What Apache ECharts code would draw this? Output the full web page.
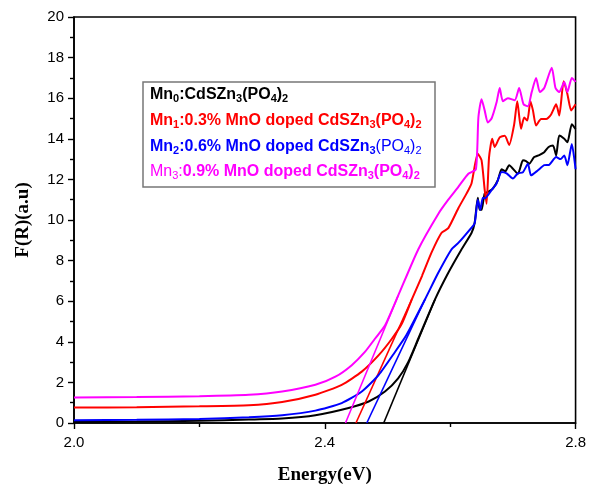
<!DOCTYPE html>
<html>
<head>
<meta charset="utf-8">
<script src="https://cdn.jsdelivr.net/npm/echarts@6/dist/echarts.min.js"></script>
<style>
  html, body { margin: 0; padding: 0; background: #fff; }
  #chart { width: 589px; height: 490px; }
</style>
</head>
<body>
<div id="chart"></div>
<script>
// Kubelka-Munk F(R) against photon energy for the four samples

// Mn0 : CdSZn3(PO4)2
const energyMn0 = [2.00, 2.10, 2.20, 2.279, 2.332, 2.385, 2.438, 2.47, 2.496, 2.517, 2.533, 2.549, 2.576, 2.597, 2.618, 2.634, 2.639, 2.644, 2.647, 2.650, 2.655, 2.661, 2.668, 2.676, 2.682, 2.688, 2.694, 2.708, 2.716, 2.721, 2.726, 2.734, 2.742, 2.750, 2.757, 2.764, 2.769, 2.774, 2.782, 2.787, 2.794, 2.800];
const frMn0 = [0.05, 0.07, 0.11, 0.17, 0.22, 0.38, 0.74, 1.06, 1.55, 2.2, 3.0, 4.15, 6.1, 7.4, 8.55, 9.36, 9.85, 11.1, 10.5, 10.5, 11.3, 11.4, 11.55, 11.96, 12.5, 12.4, 12.7, 12.28, 12.94, 12.9, 12.77, 13.1, 13.2, 13.34, 13.6, 13.67, 13.18, 14.16, 14.0, 13.83, 14.72, 14.48];

// Mn1 : 0.3% MnO
const energyMn1 = [2.00, 2.10, 2.20, 2.279, 2.332, 2.385, 2.427, 2.459, 2.486, 2.507, 2.523, 2.539, 2.555, 2.57, 2.586, 2.597, 2.613, 2.626, 2.634, 2.644, 2.650, 2.655, 2.658, 2.662, 2.667, 2.671, 2.679, 2.687, 2.694, 2.702, 2.707, 2.713, 2.718, 2.723, 2.728, 2.732, 2.737, 2.745, 2.753, 2.761, 2.769, 2.774, 2.781, 2.787, 2.793, 2.800];
const frMn1 = [0.76, 0.78, 0.82, 0.87, 1.03, 1.39, 1.88, 2.53, 3.34, 4.15, 4.9, 6.1, 7.24, 8.38, 9.36, 9.6, 10.58, 11.3, 11.8, 13.26, 12.95, 11.5, 10.8, 13.1, 14.0, 13.6, 14.07, 14.15, 13.7, 14.7, 15.85, 14.5, 15.05, 14.9, 15.85, 15.4, 14.65, 14.97, 14.97, 15.2, 15.7, 15.15, 16.84, 16.2, 15.4, 15.7];

// Mn2 : 0.6% MnO
const energyMn2 = [2.00, 2.10, 2.20, 2.279, 2.332, 2.385, 2.427, 2.459, 2.486, 2.512, 2.530, 2.560, 2.581, 2.602, 2.613, 2.629, 2.639, 2.644, 2.648, 2.652, 2.655, 2.666, 2.674, 2.682, 2.690, 2.700, 2.708, 2.716, 2.724, 2.729, 2.740, 2.750, 2.758, 2.769, 2.776, 2.782, 2.787, 2.794, 2.800];
const frMn2 = [0.14, 0.16, 0.20, 0.28, 0.38, 0.61, 0.98, 1.55, 2.37, 3.5, 4.32, 6.1, 7.4, 8.55, 8.87, 9.44, 9.84, 11.0, 10.5, 11.1, 11.06, 11.47, 11.8, 12.37, 12.3, 12.04, 12.3, 12.35, 12.77, 12.2, 12.45, 12.7, 12.72, 13.1, 13.0, 13.18, 12.7, 13.75, 12.5];

// Mn3 : 0.9% MnO
const energyMn3 = [2.00, 2.10, 2.20, 2.279, 2.332, 2.385, 2.417, 2.443, 2.464, 2.480, 2.496, 2.517, 2.549, 2.581, 2.597, 2.613, 2.629, 2.641, 2.645, 2.650, 2.655, 2.660, 2.666, 2.674, 2.679, 2.684, 2.692, 2.703, 2.710, 2.717, 2.724, 2.730, 2.737, 2.743, 2.750, 2.762, 2.768, 2.774, 2.782, 2.787, 2.794, 2.800];
const frMn3 = [1.26, 1.28, 1.32, 1.39, 1.55, 1.88, 2.28, 2.85, 3.5, 4.15, 4.8, 6.27, 8.55, 10.3, 11.0, 11.63, 12.28, 12.5, 15.05, 15.95, 15.4, 14.8, 15.0, 15.8, 16.5, 15.85, 16.0, 15.9, 16.5, 15.7, 15.6, 16.3, 17.0, 16.3, 16.5, 17.5, 16.5, 16.3, 16.8, 16.3, 17.0, 16.8];

// Linear extrapolations of the absorption edge (start on the energy axis, end on the curve)
const edgeMn0 = [[2.494, 0], [2.576, 6.1]];
const edgeMn1 = [[2.4497, 0], [2.539, 6.1]];
const edgeMn2 = [[2.467, 0], [2.560, 6.1]];
const edgeMn3 = [[2.433, 0], [2.517, 6.27]];

const seriesColors = ['#000000', '#ff0000', '#0000ff', '#ff00ff'];
const xTicks = { min: 2.0, max: 2.8, step: 0.4 };
const yTicks = { min: 0, max: 20, step: 2 };

const pairs = (xs, ys) => xs.map((x, i) => [x, ys[i]]);

const curves = [
  pairs(energyMn0, frMn0),
  pairs(energyMn1, frMn1),
  pairs(energyMn2, frMn2),
  pairs(energyMn3, frMn3)
];
const edges = [edgeMn0, edgeMn1, edgeMn2, edgeMn3];

const series = [];
curves.forEach((d, i) => {
  series.push({
    type: 'line', data: d, showSymbol: false, symbol: 'none', smooth: 0.2,
    lineStyle: { color: seriesColors[i], width: 2 }, z: 3 + i
  });
});
edges.forEach((d, i) => {
  series.push({
    type: 'line', data: d, showSymbol: false, symbol: 'none',
    lineStyle: { color: seriesColors[i], width: 1.6 }, z: 3 + i
  });
});

// Rich-text key with chemical subscripts
const keyFont = 'Liberation Sans, Arial, sans-serif';
function keyStyles(color) {
  return {
    b: { fontSize: 16, fontWeight: 'bold', lineHeight: 18, fill: color, fontFamily: keyFont },
    n: { fontSize: 16, fontWeight: 'normal', lineHeight: 18, fill: color, fontFamily: keyFont },
    bs: { fontSize: 11, fontWeight: 'bold', lineHeight: 8, verticalAlign: 'bottom', fill: color, fontFamily: keyFont },
    ns: { fontSize: 11, fontWeight: 'normal', lineHeight: 8, verticalAlign: 'bottom', fill: color, fontFamily: keyFont }
  };
}
const keyLines = [
  '{b|Mn}{bs|0}{b|:CdSZn}{bs|3}{b|(PO}{bs|4}{b|)}{bs|2}',
  '{b|Mn}{bs|1}{b|:0.3% MnO doped CdSZn}{bs|3}{b|(PO}{bs|4}{b|)}{bs|2}',
  '{b|Mn}{bs|2}{b|:0.6% MnO doped CdSZn}{bs|3}{n|(PO}{ns|4}{n|)}{ns|2}',
  '{n|Mn}{ns|3}{n|:}{b|0.9% MnO doped CdSZn}{bs|3}{b|(PO}{bs|4}{b|)}{bs|2}'
];
const keyTop = [95, 121, 147, 172];

const graphic = [{
  type: 'rect',
  shape: { x: 143, y: 82, width: 292, height: 105 },
  style: { fill: '#ffffff', stroke: '#777777', lineWidth: 1.5 },
  z: 20
}];
keyLines.forEach((t, i) => {
  graphic.push({
    type: 'text', x: 150, y: keyTop[i], z: 21,
    style: { text: t, rich: keyStyles(seriesColors[i]), fill: seriesColors[i], verticalAlign: 'middle', align: 'left' }
  });
});

const chart = echarts.init(document.getElementById('chart'), null, { renderer: 'canvas' });
chart.setOption({
  animation: false,
  backgroundColor: '#ffffff',
  grid: {
    left: 74, right: 11, top: 17, bottom: 62,
    show: true, borderColor: '#000', borderWidth: 1.6, backgroundColor: 'transparent'
  },
  xAxis: {
    type: 'value', min: xTicks.min, max: xTicks.max, interval: xTicks.step,
    name: 'Energy(eV)', nameLocation: 'middle', nameGap: 43,
    nameTextStyle: { fontFamily: 'Liberation Serif, Times New Roman, serif', fontWeight: 'bold', fontSize: 19, color: '#000' },
    axisLine: { lineStyle: { color: '#000', width: 1.6 } },
    axisTick: { length: 6, lineStyle: { color: '#000', width: 1.4 } },
    minorTick: { show: true, splitNumber: 2, length: 4, lineStyle: { color: '#000', width: 1.4 } },
    axisLabel: { color: '#000', fontSize: 15, margin: 12, fontFamily: 'Liberation Sans, Arial, sans-serif', formatter: v => v.toFixed(1) },
    splitLine: { show: false }
  },
  yAxis: {
    type: 'value', min: yTicks.min, max: yTicks.max, interval: yTicks.step,
    name: 'F(R)(a.u)', nameLocation: 'middle', nameGap: 41, nameRotate: 90,
    nameTextStyle: { fontFamily: 'Liberation Serif, Times New Roman, serif', fontWeight: 'bold', fontSize: 19, color: '#000' },
    axisLine: { lineStyle: { color: '#000', width: 1.6 } },
    axisTick: { length: 6, lineStyle: { color: '#000', width: 1.4 } },
    minorTick: { show: true, splitNumber: 2, length: 4, lineStyle: { color: '#000', width: 1.4 } },
    axisLabel: { color: '#000', fontSize: 15, margin: 10, fontFamily: 'Liberation Sans, Arial, sans-serif' },
    splitLine: { show: false }
  },
  series,
  graphic
});
</script>
</body>
</html>
